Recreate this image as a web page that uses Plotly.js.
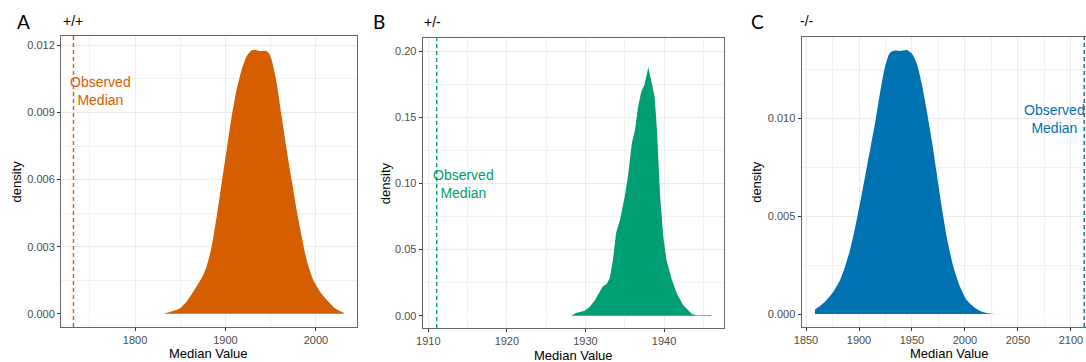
<!DOCTYPE html>
<html>
<head>
<meta charset="utf-8">
<script src="https://cdn.plot.ly/plotly-3.0.1.min.js"></script>
<style>
html, body { margin: 0; padding: 0; overflow: hidden; background: #fff; }
#chart { width: 1100px; height: 362px; }
</style>
</head>
<body>
<div id="chart"></div>
<script>
// Panel A (+/+)
const aX = [1831.3, 1849.7, 1857.1, 1864.5, 1873.7, 1879.2, 1884.7, 1890.3, 1895.8, 1901.3, 1906.8, 1912.3, 1917.9, 1923.4, 1928.9, 1932.6, 1938.1, 1943.6, 1947.3, 1951.0, 1956.6, 1962.1, 1967.6, 1973.1, 1978.6, 1984.2, 1989.7, 1997.0, 2004.4, 2013.6, 2021.0, 2031.0];
const aY = [0.00000, 0.00025, 0.00055, 0.00100, 0.00160, 0.00212, 0.00301, 0.00435, 0.00584, 0.00733, 0.00882, 0.01002, 0.01091, 0.01151, 0.01178, 0.01181, 0.01175, 0.01176, 0.01169, 0.01136, 0.01032, 0.00882, 0.00733, 0.00599, 0.00465, 0.00346, 0.00241, 0.00152, 0.00100, 0.00055, 0.00025, 0.00004];
const aObserved = 1732;

// Panel B (+/-)
const bX = [1928.2, 1928.8, 1929.9, 1930.5, 1931.2, 1931.8, 1932.2, 1932.7, 1933.1, 1933.5, 1933.9, 1934.4, 1935.0, 1935.4, 1935.9, 1936.3, 1936.7, 1937.1, 1937.5, 1938.0, 1938.4, 1938.8, 1939.1, 1939.5, 1939.9, 1940.3, 1941.0, 1941.6, 1942.4, 1943.5, 1944.1, 1945.4, 1946.0];
const bY = [0.0000, 0.0020, 0.0038, 0.0063, 0.0116, 0.0184, 0.0221, 0.0239, 0.0284, 0.0423, 0.0624, 0.0725, 0.0901, 0.1052, 0.1303, 0.1404, 0.1580, 0.1693, 0.1743, 0.1877, 0.1756, 0.1655, 0.1404, 0.0901, 0.0599, 0.0423, 0.0272, 0.0171, 0.0083, 0.0015, 0.0003, 0.0003, 0.0005];
const bObserved = 1911.07;

// Panel C (-/-)
const cX = [1858.5, 1863.2, 1869.5, 1875.8, 1882.1, 1886.8, 1891.5, 1896.2, 1900.9, 1905.7, 1910.4, 1915.1, 1919.8, 1924.5, 1929.2, 1933.9, 1938.7, 1945.0, 1949.7, 1954.4, 1959.1, 1963.8, 1968.6, 1973.3, 1978.0, 1982.7, 1989.0, 1995.3, 2001.6, 2008.0, 2015.0, 2022.0, 2028.0];
const cY = [0.00024, 0.00041, 0.00072, 0.00114, 0.00174, 0.00242, 0.00327, 0.00438, 0.00565, 0.00702, 0.00838, 0.00974, 0.01128, 0.01264, 0.01335, 0.01346, 0.01344, 0.01349, 0.01332, 0.01281, 0.01179, 0.01042, 0.00889, 0.00719, 0.00548, 0.00395, 0.00242, 0.00140, 0.00072, 0.00038, 0.00015, 0.00004, 0.00001];
const cObserved = 2112.5;

const panelLabels = ["A", "B", "C"];
const panelTitles = ["+/+", "+/-", "-/-"];
const colors = ["#D55E00", "#009E73", "#0072B2"];
const xTitle = "Median Value";
const yTitle = "density";
const obsText = "Observed<br>Median";
const obsTextPos = [[1762.4, 0.00998], [1914.5, 0.0995], [2084.9, 0.00997]];

const W = 1100, H = 362;
const px = v => v / W;
const py = v => (H - v) / H;

const panels = [
  {x: aX, y: aY, obs: aObserved, xd: [61, 356.5], yd: [36, 327], xr: [1718.2, 2044.8], yr: [-0.00059, 0.01242],
   xt0: 1800, xdt: 100, xm0: 1750, xmdt: 100, yt0: 0, ydt: 0.003, ym0: 0.0015, ymdt: 0.003, yfmt: ".3f", shape: "spline", titleY: 353},
  {x: bX, y: bY, obs: bObserved, xd: [422.7, 724], yd: [38.3, 328], xr: [1909.29, 1947.63], yr: [-0.0093, 0.2096],
   xt0: 1910, xdt: 10, xm0: 1905, xmdt: 10, yt0: 0, ydt: 0.05, ym0: 0.025, ymdt: 0.05, yfmt: ".2f", shape: "linear", titleY: 355},
  {x: cX, y: cY, obs: cObserved, xd: [801.5, 1098], yd: [36.7, 327], xr: [1845.75, 2125.5], yr: [-0.00066, 0.01417],
   xt0: 1850, xdt: 50, xm0: 1825, xmdt: 50, yt0: 0, ydt: 0.005, ym0: 0.0025, ymdt: 0.005, yfmt: ".3f", shape: "spline", titleY: 353}
];

const labelPos = [[23.7, 21, 72.5, 21], [379, 22, 432.4, 22], [757, 21, 807, 21]];
const yTitleX = [16, 385, 757];

const data = [];
const layout = {
  width: W, height: H,
  margin: {l: 0, r: 0, t: 0, b: 0},
  paper_bgcolor: "#ffffff", plot_bgcolor: "#ffffff",
  showlegend: false,
  font: {family: "Liberation Sans, Arial, sans-serif", color: "#000"},
  shapes: [], annotations: []
};

panels.forEach((p, i) => {
  const n = i === 0 ? "" : String(i + 1);
  const xa = "x" + n, ya = "y" + n;
  data.push({
    type: "scatter", mode: "lines", x: p.x, y: p.y, xaxis: xa, yaxis: ya,
    fill: "tozeroy", fillcolor: colors[i],
    line: {color: colors[i], width: 0, shape: p.shape, smoothing: 0.6},
    hoverinfo: "x+y"
  });
  const axCommon = {
    showline: true, mirror: true, linecolor: "#666666", linewidth: 1,
    ticks: "outside", ticklen: 3, tickcolor: "#333333", tickwidth: 1,
    showgrid: true, gridcolor: "#EBEBEB", gridwidth: 1, zeroline: false,
    tickfont: {size: 11, color: "#4D4D4D", family: "Liberation Sans, Arial, sans-serif"},
    fixedrange: true
  };
  layout["xaxis" + n] = Object.assign({}, axCommon, {
    domain: [px(p.xd[0]), px(p.xd[1])], range: p.xr, anchor: ya,
    tickmode: "linear", tick0: p.xt0, dtick: p.xdt,
    minor: {showgrid: true, gridcolor: "#F2F2F2", gridwidth: 1, tick0: p.xm0, dtick: p.xmdt, ticks: ""}
  });
  layout["yaxis" + n] = Object.assign({}, axCommon, {
    domain: [py(p.yd[1]), py(p.yd[0])], range: p.yr, anchor: xa,
    tickmode: "linear", tick0: p.yt0, dtick: p.ydt, tickformat: p.yfmt,
    minor: {showgrid: true, gridcolor: "#F2F2F2", gridwidth: 1, tick0: p.ym0, dtick: p.ymdt, ticks: ""}
  });
  // white baseline at zero across the panel
  layout.shapes.push({type: "line", xref: xa, yref: ya, x0: p.xr[0], x1: p.xr[1], y0: 0, y1: 0,
    line: {color: "#FFFFFF", width: 1.2}, layer: "between"});
  // observed median dashed line
  layout.shapes.push({type: "line", xref: xa, yref: ya + " domain", x0: p.obs, x1: p.obs, y0: 0, y1: 1,
    line: {color: colors[i], width: 1.4, dash: "4px,3px"}, layer: "above"});
  // observed median label
  layout.annotations.push({xref: xa, yref: ya, x: obsTextPos[i][0], y: obsTextPos[i][1], text: obsText,
    showarrow: false, align: "center", xanchor: "center", yanchor: "middle",
    font: {size: 14, color: colors[i]}});
  // panel letter and title
  layout.annotations.push({xref: "paper", yref: "paper", x: px(labelPos[i][0]), y: py(labelPos[i][1]),
    text: panelLabels[i], showarrow: false, xanchor: "center", yanchor: "middle",
    font: {size: 19, family: "Lato, Open Sans, sans-serif", color: "#000"}});
  layout.annotations.push({xref: "paper", yref: "paper", x: px(labelPos[i][2]), y: py(labelPos[i][3]),
    text: panelTitles[i], showarrow: false, xanchor: "center", yanchor: "middle",
    font: {size: 14, color: "#000"}});
  // axis titles
  layout.annotations.push({xref: "paper", yref: "paper", x: px((p.xd[0] + p.xd[1]) / 2), y: py(p.titleY),
    text: xTitle, showarrow: false, xanchor: "center", yanchor: "middle",
    font: {size: 13, color: "#000"}});
  layout.annotations.push({xref: "paper", yref: "paper", x: px(yTitleX[i]), y: py((p.yd[0] + p.yd[1]) / 2),
    text: yTitle, showarrow: false, textangle: -90, xanchor: "center", yanchor: "middle",
    font: {size: 13, color: "#000"}});
});

Plotly.newPlot("chart", data, layout, {displayModeBar: false, staticPlot: true});
</script>
</body>
</html>
